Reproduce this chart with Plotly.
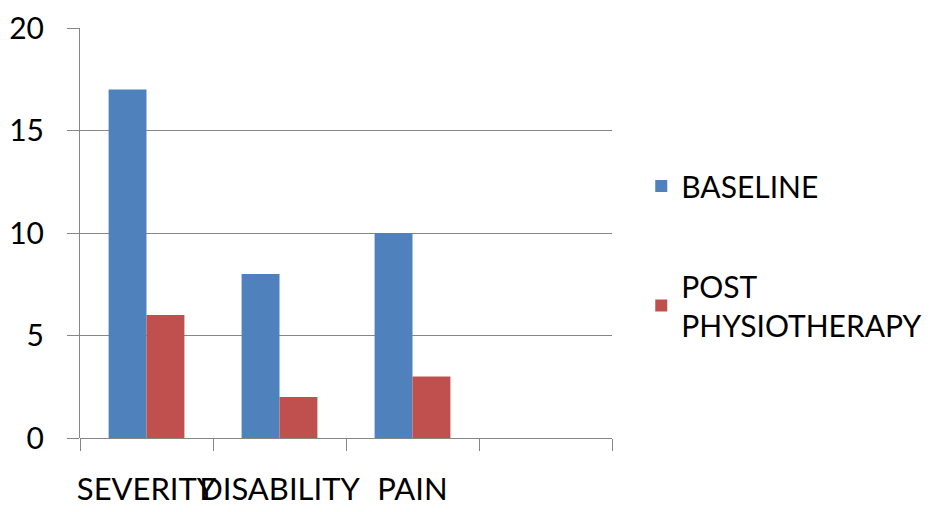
import plotly.graph_objects as go

categories = ["SEVERITY", "DISABILITY", "PAIN", " "]
baseline = [17, 8, 10, None]
post = [6, 2, 3, None]
series_names = ["BASELINE", "POST<br>PHYSIOTHERAPY"]
y_ticks = [0, 5, 10, 15, 20]

FONT = "Lato"
GRID = "#868686"
FS = 30

fig = go.Figure()
fig.add_trace(go.Bar(x=categories, y=baseline, name=series_names[0],
                     marker=dict(color="#4F81BD", line=dict(width=0)),
                     legendgroup="a"))
fig.add_trace(go.Bar(x=categories, y=post, name=series_names[1],
                     marker=dict(color="#C0504D", line=dict(width=0)),
                     legendgroup="b"))

fig.update_layout(
    width=946, height=512,
    margin=dict(l=80, r=334, t=28, b=74),
    paper_bgcolor="white", plot_bgcolor="white",
    barmode="group", bargap=0.43, bargroupgap=0,
    font=dict(family=FONT, size=FS, color="black"),
    legend=dict(x=1.055, y=0.445, xanchor="left", yanchor="middle",
                font=dict(size=FS), tracegroupgap=58, traceorder="grouped",
                itemwidth=30),
    xaxis=dict(type="category", categoryorder="array", categoryarray=categories,
               range=[-0.5, 3.5], showline=False, showgrid=False,
               ticks="outside", tickson="boundaries", ticklen=12, tickcolor=GRID,
               tickwidth=1, tickfont=dict(size=31), tickangle=0, zeroline=False,
               automargin=False, ticklabelstandoff=30),
    yaxis=dict(range=[0, 20], tickvals=y_ticks, showline=True, linecolor=GRID,
               linewidth=1, showgrid=True, gridcolor=GRID, gridwidth=1,
               ticks="outside", ticklen=12, tickcolor=GRID, zeroline=True,
               zerolinecolor=GRID, zerolinewidth=1, tickfont=dict(size=FS),
               ticklabelstandoff=17, automargin=False),
)

fig.write_html("out.html")
